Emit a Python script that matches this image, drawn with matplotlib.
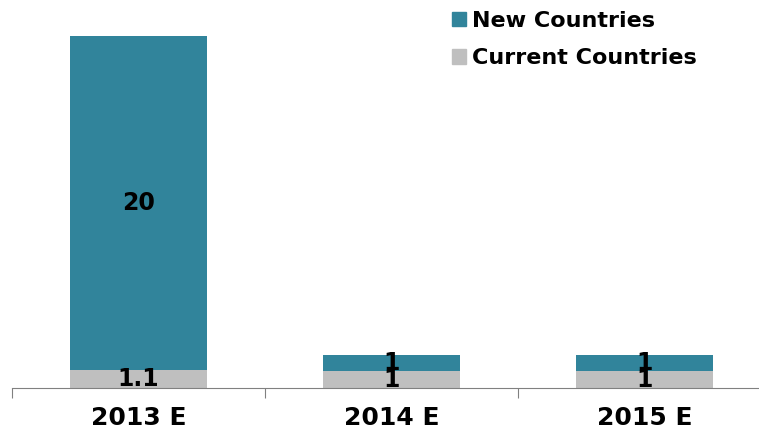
import matplotlib
matplotlib.use("Agg")
import matplotlib.pyplot as plt
from matplotlib.patches import Patch

years = ["2013 E", "2014 E", "2015 E"]
current = [1.1, 1, 1]
new = [20, 1, 1]

TEAL = "#31849B"
GREY = "#BFBFBF"

fig = plt.figure(figsize=(7.59, 4.33), dpi=100)
ax = fig.add_axes([12 / 759, 45 / 433, 759 / 759, 367 / 433])

x = range(len(years))
b1 = ax.bar(x, current, width=0.54, color=GREY)
b2 = ax.bar(x, new, width=0.54, bottom=current, color=TEAL)
ax.bar_label(b1, labels=[f"{v:g}" for v in current], label_type="center",
             fontsize=17, fontweight="bold", color="black")
ax.bar_label(b2, labels=[f"{v:g}" for v in new], label_type="center",
             fontsize=17, fontweight="bold", color="black")

ax.set_xlim(-0.5, 2.5)
ax.set_ylim(0, 22)
for s in ["top", "right", "left"]:
    ax.spines[s].set_visible(False)
ax.spines["bottom"].set_color("#808080")
ax.set_yticks([])

# category boundaries carry the ticks, labels sit under the bars
ax.set_xticks([-0.5, 0.5, 1.5, 2.5])
ax.set_xticklabels([])
ax.tick_params(axis="x", length=7, color="#808080", direction="out")
for i, yr in enumerate(years):
    ax.text(i, -1.05, yr, ha="center", va="top", fontsize=18, fontweight="bold",
            transform=ax.transData, clip_on=False)

handles = [Patch(color=TEAL, label="New Countries"),
           Patch(color=GREY, label="Current Countries")]
leg = fig.legend(handles=handles, loc="upper left",
                 bbox_to_anchor=(432 / 759, 1.0 + 9 / 433),
                 frameon=False, prop={"size": 16, "weight": "bold"},
                 handlelength=0.62, handleheight=0.62, handletextpad=0.3,
                 labelspacing=0.78)

fig.savefig("out.png", dpi=100)
